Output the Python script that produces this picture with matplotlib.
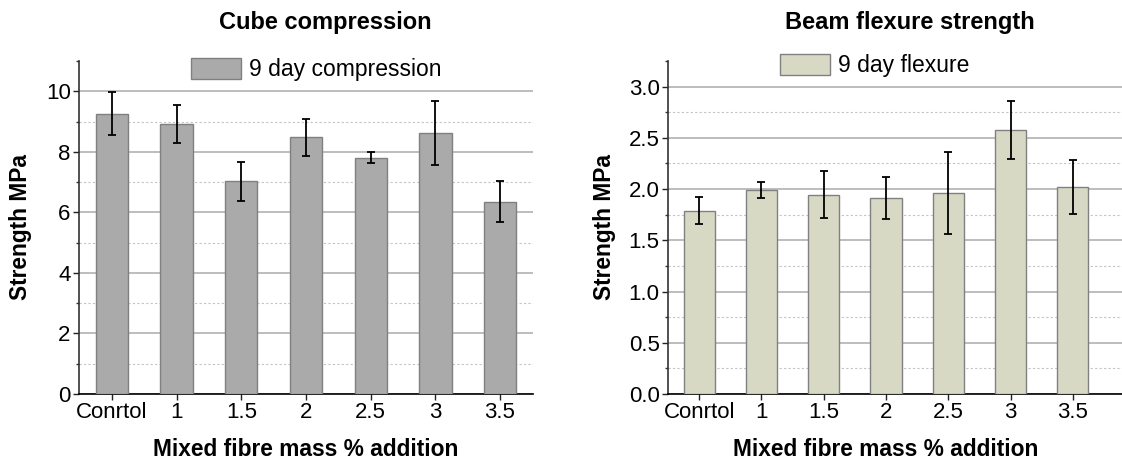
import matplotlib
matplotlib.use("Agg")
import matplotlib.pyplot as plt
from matplotlib.ticker import MultipleLocator

plt.rcParams['font.family'] = ['Liberation Sans', 'DejaVu Sans']

categories = ["Conrtol", "1", "1.5", "2", "2.5", "3", "3.5"]

compression_mean = [9.26, 8.92, 7.02, 8.48, 7.81, 8.62, 6.35]
compression_err = [0.71, 0.64, 0.66, 0.61, 0.18, 1.05, 0.68]

flexure_mean = [1.79, 1.99, 1.945, 1.915, 1.96, 2.575, 2.02]
flexure_err = [0.13, 0.08, 0.23, 0.205, 0.40, 0.285, 0.265]

W, H = 1122, 463
fig = plt.figure(figsize=(W / 100, H / 100), dpi=100)


def fx(px):
    return px / W


def fy(py):
    return 1 - py / H


def panel(rect, means, errs, color, ylim, major, minor, xlim, title, title_x,
          xlabel_x, ylabel_x, legend_label, legend_xy):
    ax = fig.add_axes(rect)
    x = list(range(len(categories)))
    ax.bar(x, means, width=0.5, color=color, edgecolor='#808080', linewidth=1.0,
           zorder=3, label=legend_label)
    ax.errorbar(x, means, yerr=errs, fmt='none', ecolor='black', elinewidth=1.3,
                capsize=2.6, capthick=1.3, zorder=4)
    ax.set_xlim(*xlim)
    ax.set_ylim(*ylim)
    ax.set_xticks(x)
    ax.set_xticklabels(categories)
    ax.yaxis.set_major_locator(MultipleLocator(major))
    ax.yaxis.set_minor_locator(MultipleLocator(minor))
    ax.grid(which='major', axis='y', color='#b2b2b2', linewidth=1.2, zorder=0)
    # dotted minor grid, leaving the top edge of the plot open
    for v in ax.yaxis.get_minorticklocs():
        if 0 < v < ylim[1] - 1e-9:
            ax.axhline(v, color='#c4c4c4', linewidth=0.8,
                       linestyle=(0, (2, 2)), zorder=0)
    ax.set_axisbelow(True)
    for s in ('top', 'right'):
        ax.spines[s].set_visible(False)
    ax.spines['left'].set_color('#333333')
    ax.spines['left'].set_linewidth(1.2)
    ax.spines['bottom'].set_color('black')
    ax.spines['bottom'].set_linewidth(1.2)
    ax.tick_params(axis='both', which='major', labelsize=16, length=4,
                   width=1.0, direction='out', pad=2, colors='#222222',
                   labelcolor='black')
    ax.tick_params(axis='x', which='minor', length=0)
    ax.tick_params(axis='y', which='minor', length=2.5, width=1.0,
                   color='#333333')
    fig.text(fx(title_x), fy(22), title, ha='center', va='center',
             fontsize=17, fontweight='bold')
    fig.text(fx(xlabel_x), fy(450), "Mixed fibre mass % addition",
             ha='center', va='center', fontsize=16.4, fontweight='bold')
    fig.text(fx(ylabel_x), (rect[1] + rect[1] + rect[3]) / 2, "Strength MPa",
             ha='center', va='center', rotation=90, fontsize=16.4,
             fontweight='bold')
    ax.legend(loc='upper left', bbox_to_anchor=(fx(legend_xy[0]), fy(legend_xy[1])),
              bbox_transform=fig.transFigure, frameon=False, borderpad=0,
              borderaxespad=0, handlelength=2.2, handleheight=1.05,
              handletextpad=0.35, fontsize=16.5)
    return ax


panel([fx(79), fy(394), fx(533 - 79), (394 - 61) / H],
      compression_mean, compression_err, '#aaaaaa', (0, 11), 2, 1,
      (-0.51, 6.51), "Cube compression", 325, 306, 21,
      "9 day compression", (191, 58))

panel([fx(668), fy(394), fx(1122 - 668), (394 - 61) / H],
      flexure_mean, flexure_err, '#d8d9c5', (0, 3.25), 0.5, 0.25,
      (-0.5, 6.79), "Beam flexure strength", 910, 886, 604,
      "9 day flexure", (780, 54))

fig.savefig("out.png", dpi=100)
